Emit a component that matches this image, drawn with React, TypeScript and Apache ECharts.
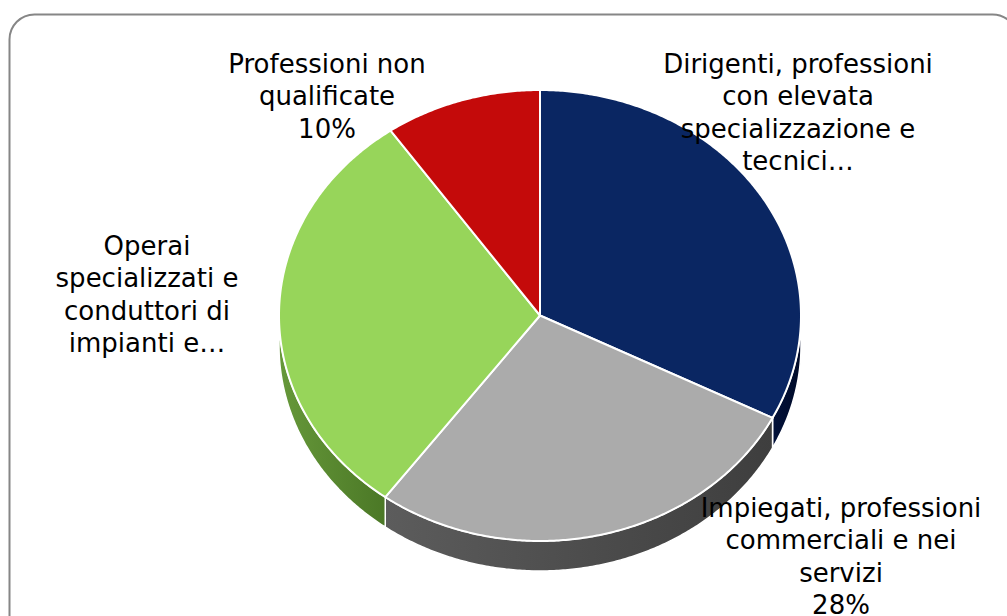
import React, { useEffect, useRef } from "react";
import * as echarts from "echarts";

const categories = [
  "Dirigenti, professioni\ncon elevata\nspecializzazione e\ntecnici…",
  "Impiegati, professioni\ncommerciali e nei\nservizi",
  "Operai\nspecializzati e\nconduttori di\nimpianti e…",
  "Professioni non\nqualificate",
];
const values = [32.5, 27.6, 30.2, 9.7];
const showPercent = [false, true, false, true];
const topColors = ["#0a2662", "#ababab", "#97d55a", "#c40a0a"];
const sideColors = [
  ["#02113a", "#000a28"],
  ["#5c5c5c", "#3e3e3e"],
  ["#66983a", "#4b7826"],
  ["#8a0606", "#6a0404"],
];

// layout (not data)
const CX = 540;
const CY = 315.5;
const RX = 261;
const RY = 225.5;
const DEPTH = 30;
const labelPos: [number, number][] = [
  [798, 47.5],
  [841, 491.5],
  [147, 229.5],
  [327, 47.5],
];

const FONT = "DejaVu Sans, Verdana, sans-serif";

export default function App() {
  const ref = useRef<HTMLDivElement>(null);
  useEffect(() => {
    if (!ref.current) return;
    const chart = echarts.init(ref.current, undefined, { renderer: "svg" });
    const total = values.reduce((a, b) => a + b, 0);
    const starts: number[] = [];
    const ends: number[] = [];
    let acc = 0;
    values.forEach((v) => {
      starts.push((acc / total) * 360);
      acc += v;
      ends.push((acc / total) * 360);
    });
    const pt = (deg: number, dy = 0): number[] => {
      const r = (deg * Math.PI) / 180;
      return [CX + RX * Math.sin(r), CY - RY * Math.cos(r) + dy];
    };
    const arc = (a: number, b: number, dy = 0) => {
      const pts: number[][] = [];
      const n = Math.max(2, Math.ceil((b - a) / 0.5));
      for (let k = 0; k <= n; k++) pts.push(pt(a + ((b - a) * k) / n, dy));
      return pts;
    };

    const renderItem = (params: any) => {
      const i = params.dataIndex;
      const a0 = starts[i];
      const a1 = ends[i];
      const children: any[] = [];
      const s0 = Math.max(a0, 90);
      const s1 = Math.min(a1, 270);
      if (s1 > s0) {
        const topArc = arc(s0, s1);
        const botArc = arc(s0, s1, DEPTH).reverse();
        children.push({
          type: "polygon",
          shape: { points: topArc.concat(botArc) },
          style: {
            fill: new echarts.graphic.LinearGradient(0, 0, 1, 0, [
              { offset: 0, color: sideColors[i][0] },
              { offset: 1, color: sideColors[i][1] },
            ]),
            stroke: "#ffffff",
            lineWidth: 1.5,
            lineJoin: "round",
          },
        });
      }
      children.push({
        type: "polygon",
        shape: { points: [[CX, CY]].concat(arc(a0, a1)) },
        style: {
          fill: topColors[i],
          stroke: "#ffffff",
          lineWidth: 2,
          lineJoin: "round",
        },
      });
      return { type: "group", children };
    };

    const labels = categories.map((c, i) => {
      const pct = Math.round((values[i] / total) * 100);
      return {
        type: "text",
        x: labelPos[i][0],
        y: labelPos[i][1],
        z: 100,
        style: {
          text: showPercent[i] ? `${c}\n${pct}%` : c,
          fontFamily: FONT,
          fontSize: 26,
          lineHeight: 32.5,
          fill: "#000000",
          align: "center",
          verticalAlign: "top",
        },
      };
    });

    chart.setOption({
      animation: false,
      backgroundColor: "#ffffff",
      series: [
        {
          type: "custom",
          coordinateSystem: "none",
          renderItem,
          data: values.map((v) => [v]),
          silent: true,
        },
      ],
      graphic: [
        {
          type: "rect",
          z: 0,
          shape: { x: 9.5, y: 14.5, width: 1008, height: 700, r: 25 },
          style: { fill: "none", stroke: "#868686", lineWidth: 2 },
        },
        ...labels,
      ],
    });
    return () => chart.dispose();
  }, []);
  return (
    <div
      ref={ref}
      style={{ position: "fixed", left: 0, top: 0, width: 1007, height: 616 }}
    />
  );
}
